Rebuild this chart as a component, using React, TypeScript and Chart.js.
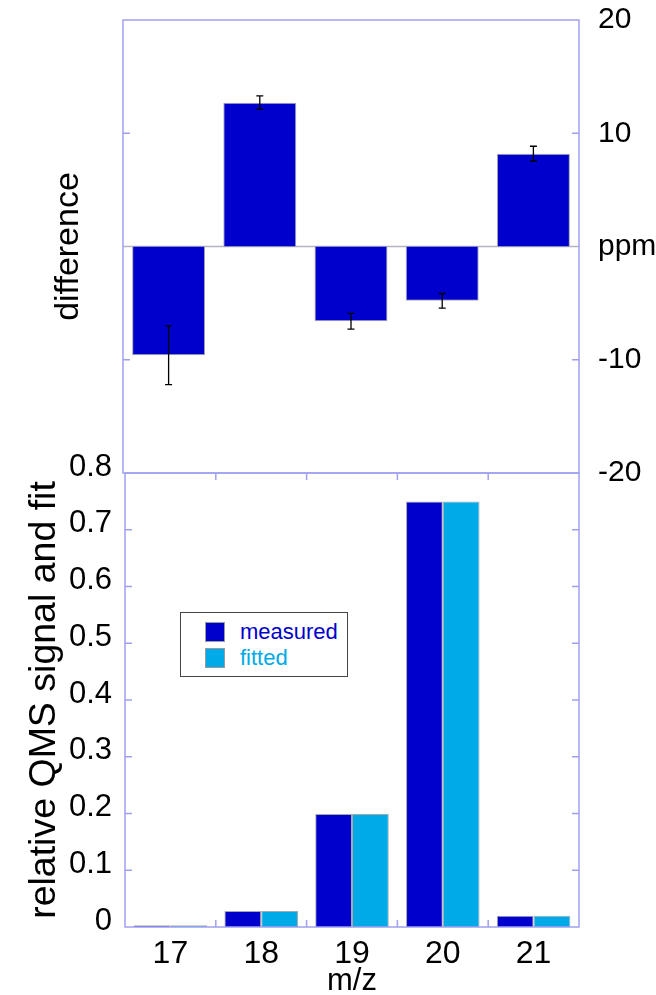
import React, { useEffect, useRef } from 'react';
import { Chart, registerables } from 'chart.js';

Chart.register(...registerables);

// ---- data ----
const categories = ['17', '18', '19', '20', '21'];
const differencePpm = [-9.6, 12.7, -6.6, -4.8, 8.2];
const differenceErr = [2.6, 0.6, 0.7, 0.65, 0.65];
const measured = [0.003, 0.028, 0.199, 0.75, 0.02];
const fitted = [0.003, 0.028, 0.199, 0.75, 0.02];
const diffTickValues = [-20, -10, 0, 10, 20];
const diffTickLabels = ['-20', '-10', 'ppm', '10', '20'];
const seriesLabels = ['measured', 'fitted'];
const seriesColors = ['#0000cc', '#00aae8'];

const FONT = "'Liberation Sans', Arial, Helvetica, sans-serif";
const FRAME_COLOR = '#a0a0f2';
const TICK = 7;

const framePlugin = {
  id: 'frame',
  afterDatasetsDraw(chart: any, _args: any, opts: any) {
    const { ctx, chartArea } = chart;
    const { left, right, top, bottom } = chartArea;
    const y = chart.scales.y;
    const x = chart.scales.x;
    ctx.save();
    ctx.strokeStyle = FRAME_COLOR;
    ctx.lineWidth = 1.5;
    ctx.beginPath();
    y.ticks.forEach((t: any) => {
      const py = y.getPixelForValue(t.value);
      if (py <= top + 1 || py >= bottom - 1) return;
      if (opts.skipZero && t.value === 0) return;
      ctx.moveTo(left, py);
      ctx.lineTo(left + TICK, py);
      ctx.moveTo(right, py);
      ctx.lineTo(right - TICK, py);
    });
    if (opts.xTicks) {
      for (let i = 0; i < categories.length - 1; i++) {
        const px = (x.getPixelForValue(i) + x.getPixelForValue(i + 1)) / 2;
        ctx.moveTo(px, top);
        ctx.lineTo(px, top + TICK);
        ctx.moveTo(px, bottom);
        ctx.lineTo(px, bottom - TICK);
      }
    }
    ctx.stroke();
    ctx.strokeRect(left, top, right - left, bottom - top);
    ctx.restore();
  },
};

const zeroLinePlugin = {
  id: 'zeroLine',
  beforeDatasetsDraw(chart: any) {
    const { ctx, chartArea } = chart;
    const py = chart.scales.y.getPixelForValue(0);
    ctx.save();
    ctx.strokeStyle = '#b4b4c4';
    ctx.lineWidth = 1.5;
    ctx.beginPath();
    ctx.moveTo(chartArea.left, py);
    ctx.lineTo(chartArea.right, py);
    ctx.stroke();
    ctx.restore();
  },
};

const errorBarPlugin = {
  id: 'errorBars',
  afterDatasetsDraw(chart: any) {
    const { ctx } = chart;
    const y = chart.scales.y;
    const meta = chart.getDatasetMeta(0);
    ctx.save();
    ctx.strokeStyle = '#000';
    ctx.lineWidth = 1.3;
    ctx.beginPath();
    meta.data.forEach((bar: any, i: number) => {
      const v = differencePpm[i];
      const e = differenceErr[i];
      const y1 = y.getPixelForValue(v + e);
      const y2 = y.getPixelForValue(v - e);
      const x = bar.x;
      ctx.moveTo(x, y1);
      ctx.lineTo(x, y2);
      ctx.moveTo(x - 3.5, y1);
      ctx.lineTo(x + 3.5, y1);
      ctx.moveTo(x - 3.5, y2);
      ctx.lineTo(x + 3.5, y2);
    });
    ctx.stroke();
    ctx.restore();
  },
};

const noVPad = (s: any) => {
  s.paddingTop = 0;
  s.paddingBottom = 0;
};

export default function App() {
  const topRef = useRef<HTMLCanvasElement>(null);
  const botRef = useRef<HTMLCanvasElement>(null);

  useEffect(() => {
    Chart.defaults.font.family = FONT;
    Chart.defaults.color = '#000';

    const top = new Chart(topRef.current as HTMLCanvasElement, {
      type: 'bar',
      data: {
        labels: categories,
        datasets: [
          {
            label: 'difference',
            data: differencePpm,
            backgroundColor: seriesColors[0],
            borderColor: '#a8a8a8',
            borderWidth: 1,
            categoryPercentage: 0.8,
            barPercentage: 1,
          },
        ],
      },
      options: {
        responsive: false,
        animation: false,
        layout: { padding: { top: 20, bottom: 27, left: 0, right: 0 } },
        plugins: {
          legend: { display: false },
          tooltip: { enabled: false },
          frame: { xTicks: false, skipZero: true },
        } as any,
        scales: {
          x: { type: 'category', display: false, offset: true },
          y: {
            position: 'right',
            min: -20,
            max: 20,
            afterBuildTicks: (s: any) => {
              s.ticks = diffTickValues.map((v) => ({ value: v }));
            },
            ticks: {
              callback: (v: any) => diffTickLabels[diffTickValues.indexOf(Number(v))],
              font: { size: 30 },
              color: '#000',
              padding: 19,
            },
            grid: { display: false, drawTicks: false },
            border: { display: false },
            afterFit: (s: any) => {
              s.width = 77;
              noVPad(s);
            },
          },
          yL: {
            position: 'left',
            min: -20,
            max: 20,
            ticks: { display: false },
            grid: { display: false, drawTicks: false },
            border: { display: false },
            title: {
              display: true,
              text: 'difference',
              font: { size: 34 },
              color: '#000',
              padding: { top: 48, bottom: 0 },
            },
            afterFit: (s: any) => {
              s.width = 123;
              noVPad(s);
            },
          },
        } as any,
      },
      plugins: [zeroLinePlugin, framePlugin, errorBarPlugin],
    });

    const bot = new Chart(botRef.current as HTMLCanvasElement, {
      type: 'bar',
      data: {
        labels: categories,
        datasets: [
          {
            label: seriesLabels[0],
            data: measured,
            backgroundColor: seriesColors[0],
            borderColor: '#a8a8a8',
            borderWidth: 1,
            categoryPercentage: 0.81,
            barPercentage: 1,
          },
          {
            label: seriesLabels[1],
            data: fitted,
            backgroundColor: seriesColors[1],
            borderColor: '#a8a8a8',
            borderWidth: 1,
            categoryPercentage: 0.81,
            barPercentage: 1,
          },
        ],
      },
      options: {
        responsive: false,
        animation: false,
        layout: { padding: { top: 33, bottom: 0, left: 0, right: 77 } },
        plugins: {
          legend: { display: false },
          tooltip: { enabled: false },
          frame: { xTicks: true, skipZero: false },
        } as any,
        scales: {
          x: {
            type: 'category',
            offset: true,
            ticks: { font: { size: 32 }, color: '#000', padding: 8 },
            grid: { display: false, drawTicks: false },
            border: { display: false },
            title: {
              display: true,
              text: 'm/z',
              font: { size: 31 },
              color: '#000',
              padding: { top: 0, bottom: -5 },
            },
            afterFit: (s: any) => {
              s.height = 68;
            },
          },
          y: {
            position: 'left',
            min: 0,
            max: 0.8,
            ticks: {
              stepSize: 0.1,
              font: { size: 31 },
              color: '#000',
              padding: 13,
              labelOffset: -6,
              callback: (v: any) => {
                const n = Math.round(Number(v) * 10) / 10;
                return n === 0 ? '0' : n.toFixed(1);
              },
            },
            grid: { display: false, drawTicks: false },
            border: { display: false },
            title: {
              display: true,
              text: 'relative QMS signal and fit',
              font: { size: 37.5 },
              color: '#000',
              padding: { top: 22, bottom: 0 },
            },
            afterFit: (s: any) => {
              s.width = 125;
            },
          },
        } as any,
      },
      plugins: [framePlugin],
    });

    return () => {
      top.destroy();
      bot.destroy();
    };
  }, []);

  return (
    <div style={{ position: 'absolute', left: 0, top: 0, width: 656, height: 995, background: '#fff', fontFamily: FONT }}>
      <canvas
        ref={botRef}
        width={656}
        height={555}
        style={{ position: 'absolute', left: 0, top: 440, width: 656, height: 555 }}
      />
      <canvas
        ref={topRef}
        width={656}
        height={500}
        style={{ position: 'absolute', left: 0, top: 0, width: 656, height: 500 }}
      />
      <div
        style={{
          position: 'absolute',
          left: 180,
          top: 612,
          width: 166,
          height: 63,
          border: '1.5px solid #444',
          background: '#fff',
        }}
      >
        {seriesLabels.map((lab, i) => (
          <div
            key={lab}
            style={{
              position: 'absolute',
              left: 24,
              top: 9 + i * 26,
              height: 20,
              display: 'flex',
              alignItems: 'center',
            }}
          >
            <div
              style={{
                width: 20,
                height: 20,
                background: seriesColors[i],
                border: '1px solid #9a9a9a',
                boxSizing: 'border-box',
              }}
            />
            <span style={{ marginLeft: 15, fontSize: 22, color: seriesColors[i], lineHeight: '20px' }}>{lab}</span>
          </div>
        ))}
      </div>
    </div>
  );
}
